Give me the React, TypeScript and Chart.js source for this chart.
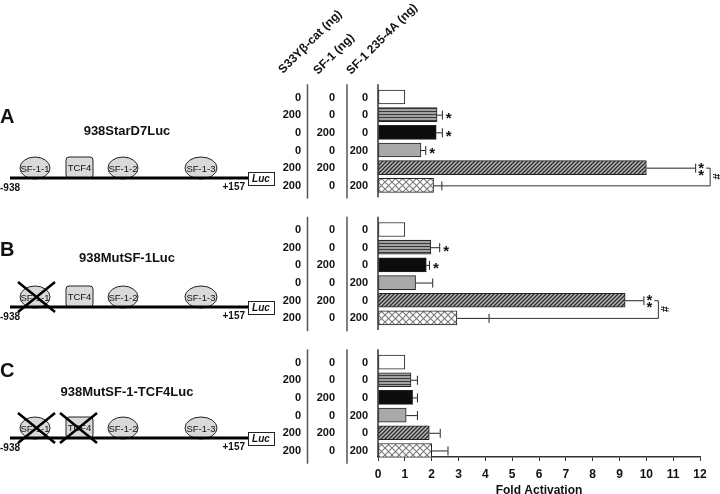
import React, { useEffect, useRef } from 'react';
import { Chart, registerables } from 'chart.js';

Chart.register(...registerables);

const FONT = '"Liberation Sans", Arial, Helvetica, sans-serif';

// ---------- data ----------
const panelLetters = ['A', 'B', 'C'];
const constructNames = ['938StarD7Luc', '938MutSF-1Luc', '938MutSF-1-TCF4Luc'];
const columnHeaders = ['S33Yβ-cat (ng)', 'SF-1 (ng)', 'SF-1 235-4A (ng)'];
const s33yCatNg = ['0', '200', '0', '0', '200', '200'];
const sf1Ng = ['0', '0', '200', '0', '200', '0'];
const sf1MutNg = ['0', '0', '0', '200', '0', '200'];

const foldA = [1.0, 2.2, 2.17, 1.6, 10.0, 2.07];
const errA = [0, 0.18, 0.21, 0.16, 1.82, 0.29];
const foldB = [1.0, 1.97, 1.8, 1.4, 9.21, 2.94];
const errB = [0, 0.31, 0.1, 0.62, 0.68, 1.18];
const foldC = [1.0, 1.23, 1.29, 1.05, 1.91, 2.0];
const errC = [0, 0.22, 0.16, 0.4, 0.39, 0.59];

const sigA = ['', '*', '*', '*', '**', ''];
const sigB = ['', '*', '*', '', '**', ''];
const sigC = ['', '', '', '', '', ''];
const hashMark = [true, true, false];

const siteNames = ['SF-1-1', 'TCF4', 'SF-1-2', 'SF-1-3'];
const crossedSites = [[], ['SF-1-1'], ['SF-1-1', 'TCF4']];
const startLabel = '-938';
const endLabel = '+157';
const reporterLabel = 'Luc';
const xAxisTitle = 'Fold Activation';

// ---------- layout (pixels) ----------
const GROUP_STEP = 7.5;
const panelLayout = [
  { letterY: 117, titleY: 131, lineY: 178 },
  { letterY: 250, titleY: 258, lineY: 307 },
  { letterY: 371, titleY: 392, lineY: 438 },
];
const siteGeom: Record<string, { kind: string; x: number; w: number }> = {
  'SF-1-1': { kind: 'ellipse', x: 35, w: 30 },
  TCF4: { kind: 'rect', x: 79.5, w: 27 },
  'SF-1-2': { kind: 'ellipse', x: 123, w: 30 },
  'SF-1-3': { kind: 'ellipse', x: 201, w: 32 },
};
const crossGeom: Record<string, [number, number]> = {
  'SF-1-1': [18, 55],
  TCF4: [60, 97],
};
const headerAnchors = [
  [283, 74],
  [318, 75],
  [351, 75],
];
const colRight = [301, 335, 368];
const colDividers = [307.5, 347];

function makePatterns() {
  const mk = (w: number, h: number, draw: (c: CanvasRenderingContext2D) => void) => {
    const cv = document.createElement('canvas');
    cv.width = w;
    cv.height = h;
    const c = cv.getContext('2d')!;
    draw(c);
    return c.createPattern(cv, 'repeat')!;
  };
  const hstripe = mk(1, 3, (c) => {
    c.fillStyle = '#a2a2a2';
    c.fillRect(0, 0, 1, 3);
    c.fillStyle = '#3a3a3a';
    c.fillRect(0, 0, 1, 1);
  });
  const diag = mk(4, 4, (c) => {
    c.fillStyle = '#b8b8b8';
    c.fillRect(0, 0, 4, 4);
    c.strokeStyle = '#2a2a2a';
    c.lineWidth = 1.3;
    c.beginPath();
    c.moveTo(-1, 5);
    c.lineTo(5, -1);
    c.moveTo(-1, 1);
    c.lineTo(1, -1);
    c.moveTo(3, 5);
    c.lineTo(5, 3);
    c.stroke();
  });
  const cross = mk(7, 7, (c) => {
    c.fillStyle = '#ffffff';
    c.fillRect(0, 0, 7, 7);
    c.strokeStyle = '#7a7a7a';
    c.lineWidth = 1.1;
    c.beginPath();
    c.moveTo(0, 0);
    c.lineTo(7, 7);
    c.moveTo(7, 0);
    c.lineTo(0, 7);
    c.stroke();
  });
  return ['#ffffff', hstripe, '#0c0c0c', '#a9a9a9', diag, cross];
}

export default function App() {
  const ref = useRef<HTMLCanvasElement | null>(null);

  useEffect(() => {
    const canvas = ref.current!;
    const folds = [foldA, foldB, foldC];
    const errs = [errA, errB, errC];
    const sigs = [sigA, sigB, sigC];
    const patterns = makePatterns();

    const data: { x: number; y: number }[] = [];
    const bg: any[] = [];
    folds.forEach((arr, g) =>
      arr.forEach((v, r) => {
        data.push({ x: v, y: g * GROUP_STEP + r });
        bg.push(patterns[r]);
      })
    );

    const sidePlugin = {
      id: 'side',
      beforeDraw(chart: any) {
        const c = chart.ctx;
        c.save();
        c.fillStyle = '#ffffff';
        c.fillRect(0, 0, chart.width, chart.height);
        c.restore();
      },
      afterDatasetsDraw(chart: any) {
        const c = chart.ctx as CanvasRenderingContext2D;
        const xs = chart.scales.x;
        const ys = chart.scales.y;
        const area = chart.chartArea;
        c.save();
        // y-axis segments
        c.strokeStyle = '#333';
        c.lineWidth = 1.5;
        for (let g = 0; g < 3; g++) {
          const y0 = ys.getPixelForValue(g * GROUP_STEP - 0.72);
          const y1 = Math.min(ys.getPixelForValue(g * GROUP_STEP + 5.68), area.bottom);
          c.beginPath();
          c.moveTo(area.left, y0);
          c.lineTo(area.left, y1);
          c.stroke();
        }
        // error bars, stars, brackets
        for (let g = 0; g < 3; g++) {
          const capX: number[] = [];
          const rowY: number[] = [];
          for (let r = 0; r < 6; r++) {
            const v = folds[g][r];
            const e = errs[g][r];
            const y = ys.getPixelForValue(g * GROUP_STEP + r);
            const x0 = xs.getPixelForValue(v);
            const x1 = xs.getPixelForValue(v + e);
            capX.push(x1);
            rowY.push(y);
            if (e > 0) {
              c.strokeStyle = '#222';
              c.lineWidth = 1;
              c.beginPath();
              c.moveTo(x0, y + 0.5);
              c.lineTo(x1, y + 0.5);
              c.moveTo(x1 + 0.5, y - 4);
              c.lineTo(x1 + 0.5, y + 5);
              c.stroke();
            }
            const s = sigs[g][r];
            if (s) {
              c.fillStyle = '#111';
              c.font = `bold 15px ${FONT}`;
              c.textAlign = 'left';
              c.textBaseline = 'alphabetic';
              if (s === '**') {
                c.fillText('*', x1 + 3, y - 3.5 + 8.5);
                c.fillText('*', x1 + 3, y + 3.5 + 8.5);
              } else {
                c.fillText('*', x1 + 4, y + 8.5);
              }
            }
          }
          if (hashMark[g]) {
            const bx = capX[4] + 15;
            c.strokeStyle = '#333';
            c.lineWidth = 1;
            c.beginPath();
            c.moveTo(capX[4] + 11, rowY[4] + 0.5);
            c.lineTo(bx, rowY[4] + 0.5);
            c.lineTo(bx, rowY[5] + 0.5);
            c.lineTo(capX[5], rowY[5] + 0.5);
            c.stroke();
            c.save();
            c.translate(bx + 5.5, (rowY[4] + rowY[5]) / 2);
            c.rotate(Math.PI / 2);
            c.fillStyle = '#111';
            c.font = `bold 11px ${FONT}`;
            c.textAlign = 'center';
            c.textBaseline = 'middle';
            c.fillText('#', 0, 0);
            c.restore();
          }
        }
        c.restore();
      },
      afterDraw(chart: any) {
        const c = chart.ctx as CanvasRenderingContext2D;
        const ys = chart.scales.y;
        c.save();
        // rotated column headers
        c.fillStyle = '#111';
        c.font = `bold 12px ${FONT}`;
        c.textAlign = 'left';
        c.textBaseline = 'alphabetic';
        columnHeaders.forEach((h, i) => {
          c.save();
          c.translate(headerAnchors[i][0], headerAnchors[i][1]);
          c.rotate(-Math.PI / 4);
          c.fillText(h, 0, 0);
          c.restore();
        });
        // table
        const cols = [s33yCatNg, sf1Ng, sf1MutNg];
        for (let g = 0; g < 3; g++) {
          c.font = `bold 11px ${FONT}`;
          c.textAlign = 'right';
          c.textBaseline = 'middle';
          c.fillStyle = '#111';
          for (let r = 0; r < 6; r++) {
            const y = ys.getPixelForValue(g * GROUP_STEP + r);
            cols.forEach((col, ci) => c.fillText(col[r], colRight[ci], y + 0.5));
          }
          const y0 = ys.getPixelForValue(g * GROUP_STEP - 0.72);
          const y1 = ys.getPixelForValue(g * GROUP_STEP + 5.75);
          c.strokeStyle = '#555';
          c.lineWidth = 1.5;
          colDividers.forEach((x) => {
            c.beginPath();
            c.moveTo(x, y0);
            c.lineTo(x, y1);
            c.stroke();
          });
        }
        // promoter diagrams
        for (let g = 0; g < 3; g++) {
          const L = panelLayout[g];
          c.fillStyle = '#111';
          c.font = `bold 20px ${FONT}`;
          c.textAlign = 'left';
          c.textBaseline = 'middle';
          c.fillText(panelLetters[g], 0, L.letterY);
          c.font = `bold 13px ${FONT}`;
          c.textAlign = 'center';
          c.fillText(constructNames[g], 127, L.titleY);

          siteNames.forEach((name) => {
            const sg = siteGeom[name];
            c.fillStyle = '#d9d9d9';
            c.strokeStyle = '#222';
            c.lineWidth = 1;
            c.beginPath();
            let cy = L.lineY - 10;
            if (sg.kind === 'ellipse') {
              c.ellipse(sg.x, cy, sg.w / 2, 11, 0, 0, Math.PI * 2);
            } else {
              cy = L.lineY - 10.5;
              (c as any).roundRect(sg.x - sg.w / 2, L.lineY - 21, sg.w, 21, 3);
            }
            c.fill();
            c.stroke();
            c.fillStyle = '#111';
            c.font = `9.5px ${FONT}`;
            c.textAlign = 'center';
            c.textBaseline = 'middle';
            c.fillText(name, sg.x, cy + 1);
          });
          // main line
          c.strokeStyle = '#000';
          c.lineWidth = 3;
          c.beginPath();
          c.moveTo(10, L.lineY);
          c.lineTo(248, L.lineY);
          c.stroke();
          // Luc box
          c.fillStyle = '#fff';
          c.strokeStyle = '#222';
          c.lineWidth = 1;
          c.fillRect(248, L.lineY - 6, 26, 13);
          c.strokeRect(248.5, L.lineY - 5.5, 26, 13);
          c.fillStyle = '#111';
          c.font = `italic bold 10px ${FONT}`;
          c.textAlign = 'center';
          c.fillText(reporterLabel, 261, L.lineY + 1);
          c.font = `bold 10px ${FONT}`;
          c.textAlign = 'left';
          c.fillText(startLabel, 0, L.lineY + 10);
          c.textAlign = 'right';
          c.fillText(endLabel, 245, L.lineY + 9);
          // crosses
          crossedSites[g].forEach((name) => {
            const [xa, xb] = crossGeom[name];
            c.strokeStyle = '#000';
            c.lineWidth = 2.5;
            c.beginPath();
            c.moveTo(xa, L.lineY - 25);
            c.lineTo(xb, L.lineY + 5);
            c.moveTo(xb, L.lineY - 25);
            c.lineTo(xa, L.lineY + 5);
            c.stroke();
          });
        }
        c.restore();
      },
    };

    const chart = new Chart(canvas, {
      type: 'bar',
      data: {
        datasets: [
          {
            data: data as any,
            backgroundColor: bg,
            borderColor: '#222',
            borderWidth: 1,
            borderSkipped: false,
            barThickness: 14,
          },
        ],
      },
      options: {
        indexAxis: 'y',
        animation: false,
        responsive: false,
        devicePixelRatio: 1,
        layout: { padding: { left: 378, right: 20, top: 84.6, bottom: -3 } },
        plugins: { legend: { display: false }, tooltip: { enabled: false } },
        scales: {
          y: {
            type: 'linear',
            reverse: true,
            min: -0.7,
            max: 20.37,
            display: false,
            offset: false,
            grid: { offset: false },
          },
          x: {
            type: 'linear',
            min: 0,
            max: 12,
            ticks: {
              stepSize: 1,
              color: '#111',
              padding: 8,
              font: { family: FONT, size: 12, weight: 'bold', lineHeight: 1 },
            },
            grid: { drawOnChartArea: false, drawTicks: true, tickLength: 4, color: '#333', lineWidth: 1 },
            border: { display: true, color: '#333', width: 1.5 },
            title: {
              display: true,
              text: xAxisTitle,
              color: '#111',
              padding: { top: -4, bottom: 0 },
              font: { family: FONT, size: 12, weight: 'bold', lineHeight: 1 },
            },
          },
        },
      } as any,
      plugins: [sidePlugin],
    });
    return () => chart.destroy();
  }, []);

  return (
    <div style={{ position: 'fixed', left: 0, top: 0, width: 720, height: 494, background: '#fff' }}>
      <canvas ref={ref} width={720} height={494} style={{ width: 720, height: 494, display: 'block' }} />
    </div>
  );
}
